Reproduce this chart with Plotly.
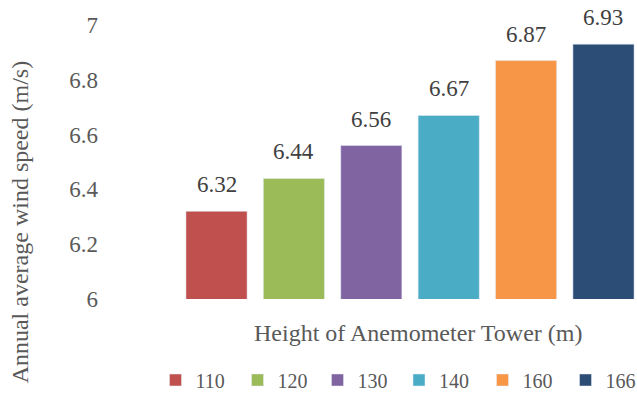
import plotly.graph_objects as go

heights = ["110", "120", "130", "140", "160", "166"]
speeds = [6.32, 6.44, 6.56, 6.67, 6.87, 6.93]
colors = ["#C0504D", "#9BBB59", "#8064A2", "#4BACC6", "#F79646", "#2C4D75"]

FONT = "Liberation Serif"
GREY = "#595959"

# legend anchor x positions (pixels) for each entry
legend_px = [155.5, 237.5, 317.5, 399, 482.5, 565.5]

fig = go.Figure()
annotations = []
layout_legends = {}
for i, (h, v, c) in enumerate(zip(heights, speeds, colors)):
    lg = "legend" if i == 0 else f"legend{i + 1}"
    fig.add_trace(go.Bar(
        x=[i], y=[v], name=h, marker_color=c, width=0.79, legend=lg,
        showlegend=True,
    ))
    annotations.append(dict(
        x=i, y=v, xref="x", yref="y", text=f"{v:.2f}", showarrow=False,
        yanchor="bottom", xanchor="center", yshift=12,
        font=dict(family=FONT, size=23, color="#404040"),
    ))
    layout_legends[lg] = dict(
        orientation="h", xref="container", yref="container",
        x=legend_px[i] / 637, xanchor="left", y=1 - 380 / 393, yanchor="middle",
        itemwidth=30, font=dict(family=FONT, size=20, color=GREY),
        bgcolor="rgba(0,0,0,0)",
    )

annotations.append(dict(
    text="Height of Anemometer Tower (m)", xref="paper", yref="paper",
    x=0.53, y=-0.1256, xanchor="center", yanchor="middle", showarrow=False,
    font=dict(family=FONT, size=24, color=GREY)))
annotations.append(dict(
    text="Annual average wind speed (m/s)", xref="paper", yref="paper",
    x=-0.321, y=0.28, xanchor="center", yanchor="middle", showarrow=False,
    textangle=-90, font=dict(family=FONT, size=24, color=GREY)))

fig.update_layout(
    width=637, height=393,
    margin=dict(l=170, r=0, t=25, b=94.4, autoexpand=False),
    plot_bgcolor="white", paper_bgcolor="white",
    barmode="overlay",
    font=dict(family=FONT, size=20, color=GREY),
    xaxis=dict(range=[-0.601, 5.433], showticklabels=False, showgrid=False,
               zeroline=False, showline=False, ticks=""),
    yaxis=dict(range=[6, 7], dtick=0.2, showgrid=False, zeroline=False,
               showline=False, ticks="", ticklabelstandoff=71,
               tickformat="~g", automargin=False,
               tickfont=dict(family=FONT, size=23, color=GREY)),
    annotations=annotations,
    **layout_legends,
)
fig.write_html("out.html")
